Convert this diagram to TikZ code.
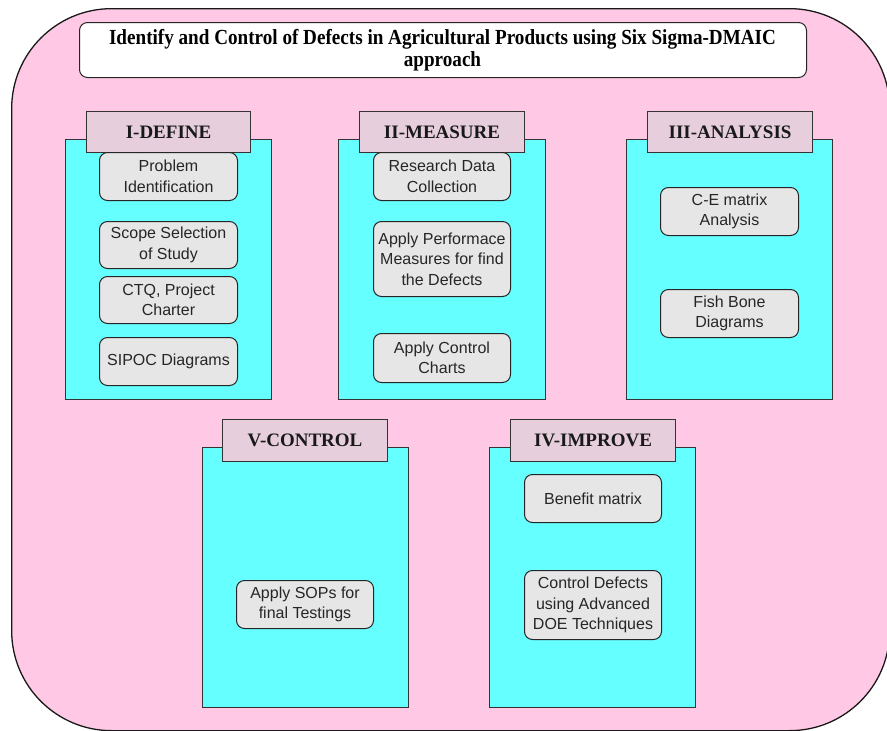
\documentclass[tikz,border=0pt]{standalone}
\usepackage{fontspec}
\setmainfont{Liberation Serif}
\setsansfont{Liberation Sans}
\newfontfamily\titlefont[FakeStretch=0.89]{Liberation Serif}
\begin{document}
\begin{tikzpicture}[x=1pt,y=-1pt,
  outerbox/.style={draw=black!90, line width=1.3pt, fill=bgpink, rounded corners=100pt},
  titlebox/.style={draw=black!85, line width=1pt, fill=white, rounded corners=8pt},
  titletext/.style={font=\titlefont\bfseries\fontsize{21.5}{22}\selectfont, align=center, inner sep=0pt},
  phasebox/.style={draw=black!80, line width=1.1pt, fill=phasecyan},
  headbox/.style={draw=black!80, line width=1.1pt, fill=headmauve,
    font=\bfseries\fontsize{19}{22}\selectfont, text=black!90},
  stepbox/.style={draw=black!85, line width=1pt, fill=stepgray, rounded corners=8pt,
    font=\sffamily\fontsize{16}{20.5}\selectfont, align=center, text=black!85},
]
\definecolor{bgpink}{HTML}{FFC8E4}
\definecolor{phasecyan}{HTML}{66FFFF}
\definecolor{headmauve}{HTML}{E6CEDC}
\definecolor{stepgray}{HTML}{E6E6E6}
\newcommand{\boxat}[7]{\node[#2, anchor=north west, inner sep=0pt,
  minimum width={(#5-#3)*1pt}, minimum height={(#6-#4)*1pt}] (#1) at (#3,#4) {#7};}
\useasboundingbox (0,0) rectangle (887,731);
\boxat{bg}{outerbox}{11}{8}{889}{730}{}
\boxat{title}{titlebox}{79}{22}{806}{77}{}
\node[titletext, anchor=base] (titleA) at (442.5,44.5) {Identify and Control of Defects in Agricultural Products using Six Sigma-DMAIC};
\node[titletext, anchor=base] (titleB) at (442.5,66.5) {approach};
% Define
\boxat{defP}{phasebox}{65}{139}{271}{399}{}
\boxat{defH}{headbox}{86}{111}{250}{152}{I-DEFINE}
\boxat{d1}{stepbox}{99}{152}{237}{200}{Problem\\Identification}
\boxat{d2}{stepbox}{99}{221}{237}{268}{Scope Selection\\of Study}
\boxat{d3}{stepbox}{99}{276}{237}{323}{CTQ, Project\\Charter}
\boxat{d4}{stepbox}{99}{337}{237}{385}{SIPOC Diagrams}
% Measure
\boxat{meaP}{phasebox}{338}{139}{545}{399}{}
\boxat{meaH}{headbox}{359}{111}{524}{152}{II-MEASURE}
\boxat{m1}{stepbox}{373}{152}{510}{200}{Research Data\\Collection}
\boxat{m2}{stepbox}{373}{221}{510}{296}{Apply Performace\\Measures for find\\the Defects}
\boxat{m3}{stepbox}{373}{333}{510}{382}{Apply Control\\Charts}
% Analysis
\boxat{anaP}{phasebox}{626}{139}{832}{399}{}
\boxat{anaH}{headbox}{647}{111}{812}{152}{III-ANALYSIS}
\boxat{a1}{stepbox}{660}{187}{798}{235}{C-E matrix\\Analysis}
\boxat{a2}{stepbox}{660}{289}{798}{337}{Fish Bone\\Diagrams}
% Control
\boxat{conP}{phasebox}{202}{447}{408}{707}{}
\boxat{conH}{headbox}{222}{419}{387}{461}{V-CONTROL}
\boxat{c1}{stepbox}{236}{580}{373}{628}{Apply SOPs for\\final Testings}
% Improve
\boxat{impP}{phasebox}{489}{447}{695}{707}{}
\boxat{impH}{headbox}{510}{419}{675}{461}{IV-IMPROVE}
\boxat{i1}{stepbox}{524}{474}{661}{522}{Benefit matrix}
\boxat{i2}{stepbox}{524}{570}{661}{639}{Control Defects\\using Advanced\\DOE Techniques}
\end{tikzpicture}
\end{document}
